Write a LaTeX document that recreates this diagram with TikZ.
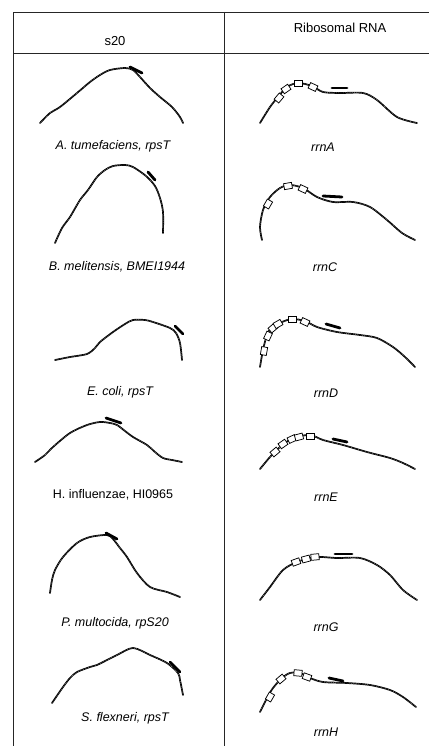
\documentclass[tikz,border=0pt]{standalone}
\usepackage{fontspec}
\setmainfont{Liberation Sans}
\begin{document}
\begin{tikzpicture}[x=1pt,y=-1pt,
  grid/.style={line width=0.9pt, black!85},
  curve/.style={line width=1.7pt, black, line cap=round, postaction={draw, black!45, line width=0.45pt, dash pattern=on 0.5pt off 1.3pt}},
  bar/.style={line width=2.8pt, line cap=round, black},
  rbox/.style={draw, fill=white, line width=0.75pt, minimum width=8pt, minimum height=6pt, inner sep=0pt},
  lab/.style={font=\fontsize{12.5}{14}\selectfont\itshape, inner sep=0pt},
  head/.style={font=\fontsize{13}{15}\selectfont, inner sep=0pt}]
\useasboundingbox (0,0) rectangle (429,746);
% table
\draw[grid] (13,746) -- (13,12) -- (429,12);
\draw[grid] (13,53) -- (429,53);
\draw[grid] (224,12) -- (224,746);
\node[head] (h1) at (115,41) {s20};
\node[head] (h2) at (340,28) {Ribosomal RNA};
% left column curves
\draw[curve] plot[smooth] coordinates {(40,123) (50,113) (60,107) (77,93) (90,82) (100,75) (110,70) (125,68) (133,70) (140,77) (150,88) (160,97) (172,107) (180,117) (183,123)};
\draw[bar] (130,67) -- (142,73);
\node[lab] (l1) at (113,146) {A. tumefaciens, rpsT};
\draw[curve] plot[smooth] coordinates {(55,243) (62,228) (70,217) (80,200) (88,190) (97,177) (105,170) (113,166) (125,165) (133,167) (146,176) (155,186) (160,198) (163,212) (163,233)};
\draw[bar] (148,172) -- (155,180);
\node[lab] (l2) at (117,267) {B. melitensis, BMEI1944};
\draw[curve] plot[smooth] coordinates {(55,360) (70,357) (87,354) (95,348) (100,342) (113,332) (125,324) (133,320) (145,320) (153,322) (170,328) (176,333) (180,343) (182,360)};
\draw[bar] (175,326) -- (183,334);
\node[lab] (l3) at (120,392) {E. coli, rpsT};
\draw[curve] plot[smooth] coordinates {(35,462) (45,455) (53,447) (70,433) (87,425) (100,422) (110,423) (117,425) (125,431) (133,437) (147,445) (155,452) (163,458) (172,460) (182,462)};
\draw[bar] (106,418) -- (121,423);
\node[lab, font=\fontsize{12.5}{14}\selectfont\upshape] (l4) at (113,495) {H. influenzae, HI0965};
\draw[curve] plot[smooth] coordinates {(50,593) (52,580) (55,570) (63,557) (77,543) (90,537) (107,535) (113,539) (120,548) (127,557) (137,573) (150,587) (167,592) (180,597)};
\draw[bar] (106,533) -- (117,539);
\node[lab] (l5) at (115,623) {P. multocida, rpS20};
\draw[curve] plot[smooth] coordinates {(52,703) (63,687) (70,678) (77,672) (90,667) (97,665) (117,655) (133,648) (150,655) (167,663) (178,673) (180,680) (183,695)};
\draw[bar] (170,662) -- (180,672);
\node[lab] (l6) at (125,718) {S. flexneri, rpsT};
% right column curves
\draw[curve] plot[smooth] coordinates {(260,123) (270,107) (278,97) (287,87) (298,83) (312,86) (323,92) (340,93) (363,93) (377,100) (397,117) (417,123)};
\node[rbox, rotate=50] (a1) at (279,98) {};
\node[rbox, rotate=35] (a2) at (286,89) {};
\node[rbox] (a3) at (298,83) {};
\node[rbox, rotate=-25] (a4) at (313,87) {};
\draw[bar] (332,88) -- (347,88);
\node[lab] (r1) at (323,147) {rrnA};
\draw[curve] plot[smooth] coordinates {(262,240) (260,227) (263,210) (270,197) (280,188) (290,185) (303,188) (317,197) (333,202) (353,202) (370,207) (387,220) (402,233) (415,240)};
\node[rbox, rotate=60] (c1) at (268,204) {};
\node[rbox, rotate=10] (c2) at (288,186) {};
\node[rbox, rotate=-25] (c3) at (303,189) {};
\draw[bar] (323,196) -- (342,197);
\node[lab] (r2) at (325,267) {rrnC};
\draw[curve] plot[smooth] coordinates {(260,367) (263,350) (267,335) (272,327) (282,322) (292,319) (305,321) (317,327) (337,332) (360,335) (377,338) (393,347) (405,357) (415,367)};
\node[rbox, rotate=80] (d1) at (264,351) {};
\node[rbox, rotate=65] (d2) at (268,336) {};
\node[rbox, rotate=40] (d3) at (273,328) {};
\node[rbox, rotate=30] (d4) at (278,324) {};
\node[rbox] (d5) at (292,319) {};
\node[rbox, rotate=-25] (d6) at (305,322) {};
\draw[bar] (326,324) -- (340,328);
\node[lab] (r3) at (326,393) {rrnD};
\draw[curve] plot[smooth] coordinates {(260,469) (270,457) (280,447) (293,438) (310,435) (323,440) (343,445) (367,452) (390,458) (403,463) (415,469)};
\node[rbox, rotate=40] (e1) at (275,452) {};
\node[rbox, rotate=35] (e2) at (283,444) {};
\node[rbox, rotate=25] (e3) at (292,439) {};
\node[rbox, rotate=15] (e4) at (299,437) {};
\node[rbox] (e5) at (310,436) {};
\draw[bar] (333,439) -- (347,442);
\node[lab] (r4) at (326,497) {rrnE};
\draw[curve] plot[smooth] coordinates {(260,600) (270,587) (283,570) (297,562) (315,557) (337,558) (360,558) (377,565) (390,575) (403,590) (417,600)};
\node[rbox, rotate=20] (g1) at (296,562) {};
\node[rbox, rotate=15] (g2) at (306,559) {};
\node[rbox, rotate=5] (g3) at (315,557) {};
\draw[bar] (335,554) -- (352,554);
\node[lab] (r5) at (326,627) {rrnG};
\draw[curve] plot[smooth] coordinates {(260,712) (267,698) (273,688) (282,678) (290,673) (300,673) (310,678) (323,682) (347,683) (370,685) (390,690) (403,697) (416,707)};
\node[rbox, rotate=60] (k1) at (270,697) {};
\node[rbox, rotate=40] (k2) at (281,679) {};
\node[rbox, rotate=-5] (k3) at (298,673) {};
\node[rbox, rotate=-20] (k4) at (307,677) {};
\draw[bar] (329,678) -- (343,681);
\node[lab] (r6) at (326,732) {rrnH};
\end{tikzpicture}
\end{document}
